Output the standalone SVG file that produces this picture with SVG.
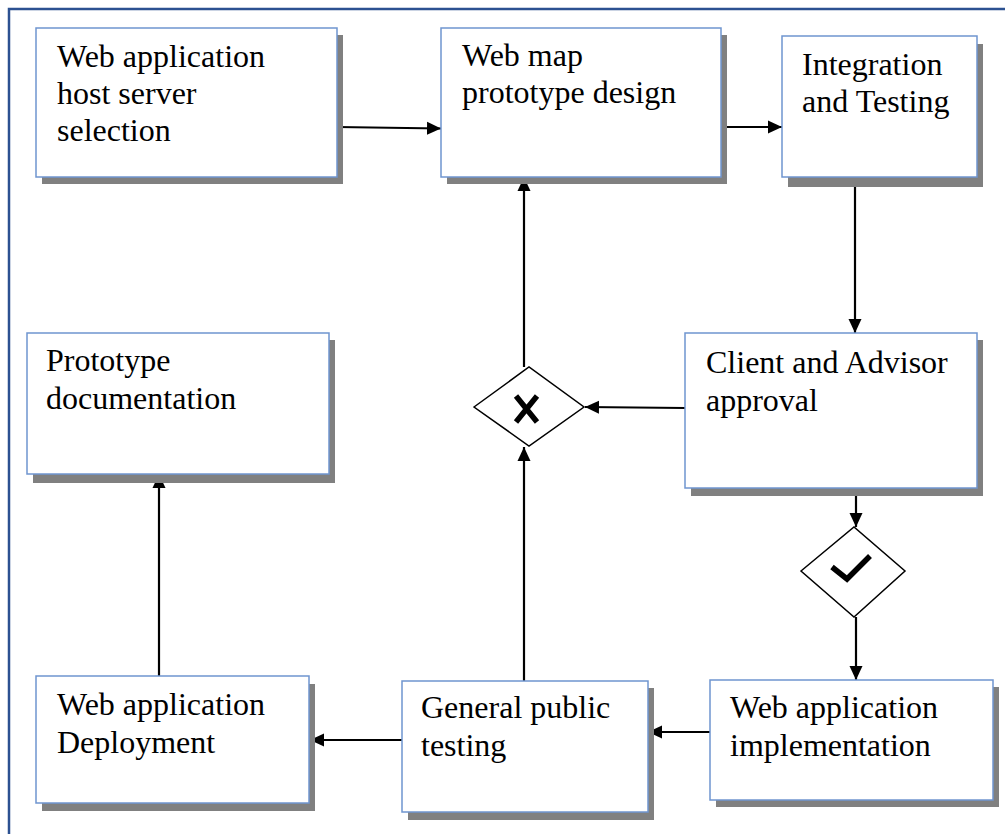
<svg xmlns="http://www.w3.org/2000/svg" width="1005" height="834" viewBox="0 0 1005 834">
  <defs>
    <marker id="arrow" viewBox="0 0 14 14" refX="14" refY="7" markerWidth="14" markerHeight="14" markerUnits="userSpaceOnUse" orient="auto">
      <path d="M0,0.5 L14,7 L0,13.5 Z" fill="#000"/>
    </marker>
  </defs>
  <style>
    .shadow { fill: #808080; }
    .box { fill: #ffffff; stroke: #6f95cf; stroke-width: 1.5; }
    .label { font-family: "Liberation Serif", "Times New Roman", serif; font-size: 32px; fill: #000; }
    .conn { stroke: #000; stroke-width: 2.2; fill: none; }
    .arrowed { marker-end: url(#arrow); }
    .gate { fill: #fff; stroke: #000; stroke-width: 1.5; }
    .mark { stroke: #000; stroke-width: 5.5; fill: none; }
  </style>

  <rect width="1005" height="834" fill="#fff"/>
  <!-- page frame -->
  <rect x="9" y="9" width="1100" height="900" fill="none" stroke="#2c5191" stroke-width="2.5"/>

  <!-- connectors -->
  <g id="connectors">
    <line class="conn arrowed" x1="337" y1="127" x2="441" y2="128.5"/>
    <line class="conn arrowed" x1="721" y1="127" x2="782" y2="127"/>
    <line class="conn arrowed" x1="855" y1="184" x2="855" y2="333"/>
    <line class="conn arrowed" x1="685" y1="408" x2="585" y2="407"/>
    <line class="conn arrowed" x1="524" y1="367" x2="524" y2="177"/>
    <line class="conn arrowed" x1="524" y1="681" x2="524" y2="447"/>
    <line class="conn arrowed" x1="856" y1="496" x2="856" y2="527"/>
    <line class="conn arrowed" x1="856" y1="617" x2="856" y2="680"/>
    <line class="conn arrowed" x1="710" y1="732" x2="648" y2="732"/>
    <line class="conn arrowed" x1="402" y1="740" x2="310" y2="740"/>
    <line class="conn arrowed" x1="159" y1="676" x2="159" y2="474"/>
  </g>

  <g id="host-server">
    <rect class="shadow" x="42" y="35" width="301" height="149"/>
    <rect class="box" x="36" y="28" width="301" height="149"/>
    <text class="label" x="57" y="67">Web application</text>
    <text class="label" x="57" y="104">host server</text>
    <text class="label" x="57" y="141">selection</text>
  </g>

  <g id="prototype-design">
    <rect class="shadow" x="447" y="35" width="280" height="149"/>
    <rect class="box" x="441" y="28" width="280" height="149"/>
    <text class="label" x="462" y="66">Web map</text>
    <text class="label" x="462" y="103">prototype design</text>
  </g>

  <g id="integration">
    <rect class="shadow" x="788" y="44" width="195" height="143"/>
    <rect class="box" x="782" y="36" width="195" height="141"/>
    <text class="label" x="802" y="75">Integration</text>
    <text class="label" x="802" y="112">and Testing</text>
  </g>

  <g id="approval">
    <rect class="shadow" x="691" y="340" width="292" height="156"/>
    <rect class="box" x="685" y="333" width="292" height="155"/>
    <text class="label" x="706" y="373">Client and Advisor</text>
    <text class="label" x="706" y="411">approval</text>
  </g>

  <g id="reject-gate">
    <polygon class="gate" points="474,407 529,367 584,407 529,446"/>
    <path class="mark" d="M516,396 L537,422 M537,396 L516,422"/>
  </g>

  <g id="accept-gate">
    <polygon class="gate" points="801,571 854,527 905,571 854,617"/>
    <path class="mark" d="M832,567 L847,579 L870,556"/>
  </g>

  <g id="documentation">
    <rect class="shadow" x="33" y="340" width="302" height="143"/>
    <rect class="box" x="27" y="333" width="302" height="141"/>
    <text class="label" x="46" y="371">Prototype</text>
    <text class="label" x="46" y="409">documentation</text>
  </g>

  <g id="deployment">
    <rect class="shadow" x="42" y="684" width="273" height="127"/>
    <rect class="box" x="36" y="676" width="273" height="127"/>
    <text class="label" x="57" y="715">Web application</text>
    <text class="label" x="57" y="753">Deployment</text>
  </g>

  <g id="public-testing">
    <rect class="shadow" x="408" y="688" width="246" height="132"/>
    <rect class="box" x="402" y="681" width="246" height="131"/>
    <text class="label" x="421" y="718">General public</text>
    <text class="label" x="421" y="756">testing</text>
  </g>

  <g id="implementation">
    <rect class="shadow" x="716" y="687" width="283" height="120"/>
    <rect class="box" x="710" y="680" width="283" height="120"/>
    <text class="label" x="730" y="718">Web application</text>
    <text class="label" x="730" y="756">implementation</text>
  </g>
</svg>
